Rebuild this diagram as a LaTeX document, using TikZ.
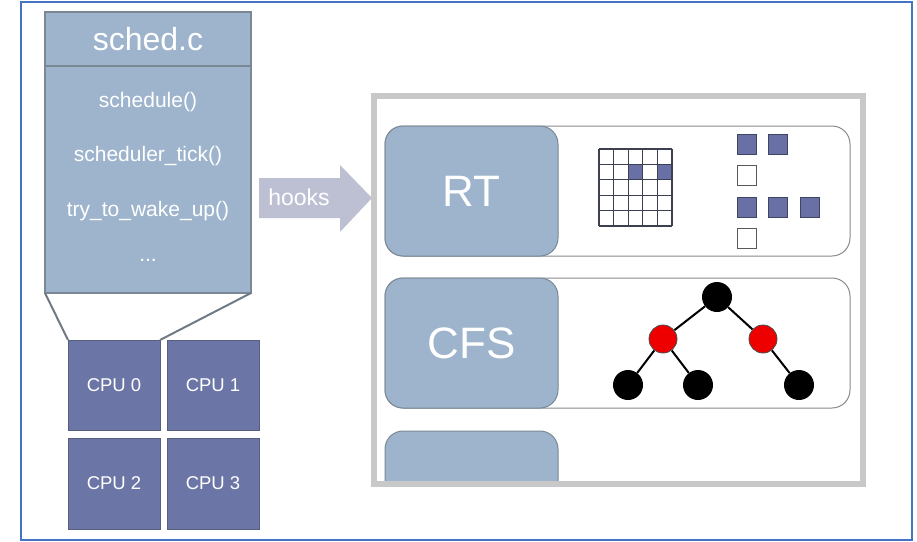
\documentclass[tikz,border=0pt]{standalone}
\usepackage{fontspec}
\setmainfont{Liberation Sans}
\definecolor{schedfill}{HTML}{9DB4CC}
\definecolor{schedline}{HTML}{7A8896}
\definecolor{cpufill}{HTML}{6C76A6}
\definecolor{cpuline}{HTML}{565F82}
\definecolor{hookfill}{HTML}{BDC0D3}
\definecolor{framegray}{HTML}{C8C8C8}
\definecolor{rowline}{HTML}{8A8A8A}
\definecolor{sqfill}{HTML}{6970A5}
\definecolor{sqline}{HTML}{3F4560}
\definecolor{gridcol}{HTML}{3C4050}
\definecolor{outerblue}{HTML}{4472C4}
\definecolor{rbredc}{HTML}{EE0000}
\definecolor{trapcol}{HTML}{6F7A85}
\begin{document}
\begin{tikzpicture}[x=1pt,y=-1pt,
  box/.style={rectangle, inner sep=0pt, outer sep=0pt, anchor=center},
  schedpart/.style={box, fill=schedfill, draw=schedline, line width=1.5pt, text=white, minimum width=206pt},
  functext/.style={text=white, inner sep=0pt, font=\fontsize{21}{25}\selectfont},
  cpubox/.style={box, fill=cpufill, draw=cpuline, line width=1pt, minimum width=92pt, minimum height=90pt, text=white, font=\fontsize{18.5}{22}\selectfont},
  rowbox/.style={box, rounded corners=18pt, draw=rowline, line width=1pt, fill=white, minimum width=465pt, minimum height=130pt},
  policy/.style={box, rounded corners=18pt, fill=schedfill, draw=schedline, line width=1pt, text=white, font=\fontsize{44}{52}\selectfont, minimum width=173pt, minimum height=130pt},
  fullsq/.style={box, minimum width=19pt, minimum height=20pt, fill=sqfill, draw=sqline, line width=1pt},
  emptysq/.style={box, minimum width=19pt, minimum height=20pt, fill=white, draw=gray!70!black, line width=1pt},
  rbblack/.style={circle, fill=black, minimum size=30pt, inner sep=0pt},
  rbred/.style={circle, fill=rbredc, draw=black!70, line width=0.8pt, minimum size=28pt, inner sep=0pt},
  treeedge/.style={line width=2pt, black},
  trap/.style={draw=trapcol, line width=2pt}
]
\useasboundingbox (0,0) rectangle (917,541);
\node[box, draw=outerblue, line width=2pt, minimum width=891pt, minimum height=538pt] (outer) at (466.5,271) {};

% sched.c
\node[schedpart, minimum height=54pt, font=\fontsize{32}{38}\selectfont] (hdr) at (148,39) {sched.c};
\node[schedpart, minimum height=227pt] (body) at (148,179.5) {};
\node[functext] (f1) at (148,102) {schedule()};
\node[functext] (f2) at (148,156) {scheduler\_tick()};
\node[functext] (f3) at (148,211) {try\_to\_wake\_up()};
\node[functext] (f4) at (148,260) {...};

% CPUs
\node[cpubox] (cpu0) at (114,385) {CPU 0};
\node[cpubox] (cpu1) at (213,385) {CPU 1};
\node[cpubox, minimum height=91pt] (cpu2) at (114,483.5) {CPU 2};
\node[cpubox, minimum height=91pt] (cpu3) at (213,483.5) {CPU 3};
\draw[trap] (body.south west) -- (cpu0.north west);
\draw[trap] (body.south east) -- (cpu0.north east);

% hooks arrow
\fill[hookfill] (259,178) -- (340,178) -- (340,165) -- (372,198) -- (340,232) -- (340,218) -- (259,218) -- cycle;
\node[text=white, inner sep=0pt, font=\fontsize{23}{27}\selectfont] (hooks) at (299,197) {hooks};

% scheduling classes
\node[rowbox] (rtrow) at (617.5,191) {};
\node[policy] (rt) at (471.5,191) {RT};
\node[rowbox] (cfsrow) at (617.5,343) {};
\node[policy] (cfs) at (471.5,343) {CFS};
\begin{scope}
  \clip (373.5,96) rectangle (863,483.5);
  \node[policy] (third) at (471.5,496) {};
\end{scope}
\node[box, draw=framegray, line width=6pt, minimum width=489.5pt, minimum height=387.5pt] (frame) at (618.25,289.75) {};

% RT bitmap grid
\fill[sqfill] (628.2,164.4) rectangle (642.8,179.8);
\fill[sqfill] (657.4,164.4) rectangle (672,179.8);
\foreach \i in {0,...,5} {
  \draw[gridcol, line width=1.3pt] (599+\i*14.6,149) -- (599+\i*14.6,226);
  \draw[gridcol, line width=1.3pt] (599,149+\i*15.4) -- (672,149+\i*15.4);
}
% RT queues
\node[fullsq] (q1) at (746.5,144) {};
\node[fullsq] (q2) at (778,144) {};
\node[emptysq] (e1) at (746.5,175.5) {};
\node[fullsq] (q3) at (746.5,207) {};
\node[fullsq] (q4) at (778,207) {};
\node[fullsq] (q5) at (809.5,207) {};
\node[emptysq] (e2) at (746.5,238.5) {};

% CFS red-black tree
\node[rbblack] (root) at (717,297) {};
\node[rbred] (tl) at (663,339) {};
\node[rbred] (tr) at (763,339) {};
\node[rbblack] (ll) at (628,385) {};
\node[rbblack] (lr) at (698,385) {};
\node[rbblack] (rr) at (799,385) {};
\draw[treeedge] (root) -- (tl);
\draw[treeedge] (root) -- (tr);
\draw[treeedge] (tl) -- (ll);
\draw[treeedge] (tl) -- (lr);
\draw[treeedge] (tr) -- (rr);
\end{tikzpicture}
\end{document}
